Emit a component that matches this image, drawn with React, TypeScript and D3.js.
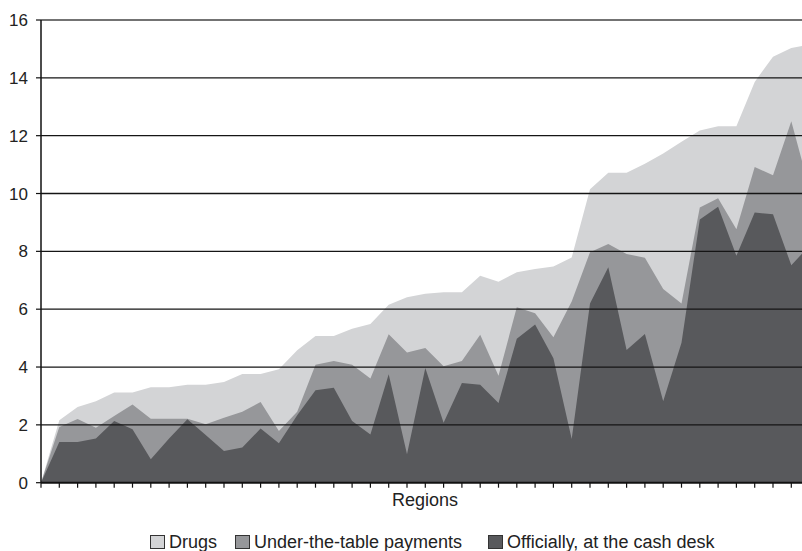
import React, { useEffect, useRef } from "react";
import * as d3 from "d3";

const drugs = [0, 2.16, 2.62, 2.82, 3.12, 3.12, 3.3, 3.3, 3.39, 3.39, 3.48, 3.76, 3.76, 3.92, 4.58, 5.07, 5.07, 5.32, 5.49, 6.15, 6.41, 6.53, 6.59, 6.59, 7.16, 6.95, 7.28, 7.39, 7.48, 7.79, 10.15, 10.72, 10.72, 11.03, 11.38, 11.79, 12.18, 12.33, 12.33, 13.86, 14.73, 15.03, 15.15];
const underTable = [0, 1.93, 2.2, 1.9, 2.31, 2.7, 2.21, 2.21, 2.21, 2.02, 2.25, 2.45, 2.79, 1.79, 2.45, 4.08, 4.21, 4.08, 3.6, 5.13, 4.5, 4.66, 4.03, 4.21, 5.12, 3.7, 6.07, 5.86, 5.03, 6.27, 7.97, 8.25, 7.91, 7.78, 6.7, 6.2, 9.52, 9.84, 8.76, 10.92, 10.63, 12.5, 10.15];
const officially = [0, 1.41, 1.41, 1.53, 2.13, 1.85, 0.81, 1.53, 2.19, 1.65, 1.1, 1.22, 1.87, 1.36, 2.33, 3.2, 3.28, 2.13, 1.67, 3.75, 0.98, 3.97, 2.07, 3.45, 3.39, 2.76, 4.98, 5.47, 4.3, 1.51, 6.2, 7.45, 4.59, 5.14, 2.82, 4.84, 9.1, 9.54, 7.85, 9.34, 9.28, 7.52, 8.2];
const yTicks = [0, 2, 4, 6, 8, 10, 12, 14, 16];
const seriesNames = ["Drugs", "Under-the-table payments", "Officially, at the cash desk"];
const seriesColors = ["#d3d4d6", "#96979a", "#58595c"];

export default function App() {
  const ref = useRef<SVGSVGElement>(null);
  useEffect(() => {
    const svg = d3.select(ref.current);
    svg.selectAll("*").remove();
    const W = 802, H = 551;
    const left = 41, right = 802, top = 20, bottom = 482.7;
    const n = drugs.length;
    const x = d3.scaleLinear().domain([0, n - 1]).range([left, left + 18.3 * (n - 1)]);
    const y = d3.scaleLinear().domain([0, 16]).range([bottom, top]);
    const font = "'Liberation Sans', Arial, Helvetica, sans-serif";

    const g = svg.append("g");
    const clip = svg.append("clipPath").attr("id", "plotclip");
    clip.append("rect").attr("x", left).attr("y", 0).attr("width", right - left).attr("height", H);

    const all = [drugs, underTable, officially];
    all.forEach((s, k) => {
      const area = d3.area<number>().x((_, i) => x(i)).y0(y(0)).y1(d => y(d));
      g.append("path").attr("d", area(s) as string).attr("fill", seriesColors[k]).attr("clip-path", "url(#plotclip)");
    });

    // gridlines
    yTicks.filter(t => t > 0).forEach(t => {
      g.append("line").attr("x1", left).attr("x2", right).attr("y1", y(t)).attr("y2", y(t))
        .attr("stroke", t === 16 ? "#444" : "#151515").attr("stroke-width", 1.3);
    });

    // y axis
    g.append("line").attr("x1", left).attr("x2", left).attr("y1", top).attr("y2", bottom).attr("stroke", "#111").attr("stroke-width", 1.5);
    yTicks.forEach(t => {
      g.append("line").attr("x1", left - 5).attr("x2", left).attr("y1", y(t)).attr("y2", y(t)).attr("stroke", "#111").attr("stroke-width", 1.2);
      g.append("text").attr("x", 28).attr("y", y(t)).attr("dy", "0.36em").attr("text-anchor", "end")
        .attr("font-family", font).attr("font-size", 17).attr("fill", "#222").text(String(t));
    });

    // x axis
    g.append("line").attr("x1", left).attr("x2", right).attr("y1", bottom).attr("y2", bottom).attr("stroke", "#111").attr("stroke-width", 2);
    d3.range(n).forEach(i => {
      const xi = x(i);
      if (xi > right) return;
      g.append("line").attr("x1", xi).attr("x2", xi).attr("y1", bottom).attr("y2", bottom + 5).attr("stroke", "#111").attr("stroke-width", 1.2);
    });
    g.append("text").attr("x", 425).attr("y", 506).attr("text-anchor", "middle")
      .attr("font-family", font).attr("font-size", 18).attr("fill", "#222").text("Regions");

    // legend
    const legendX = [150, 235, 488];
    seriesNames.forEach((name, k) => {
      g.append("rect").attr("x", legendX[k] + 0.5).attr("y", 535.5).attr("width", 14).attr("height", 13)
        .attr("fill", seriesColors[k]).attr("stroke", "#333").attr("stroke-width", 1);
      g.append("text").attr("x", legendX[k] + 19).attr("y", 548).attr("font-family", font).attr("font-size", 18)
        .attr("fill", "#222").text(name);
    });
    svg.attr("width", W).attr("height", H);
  }, []);
  return (
    <svg ref={ref} width={802} height={551} style={{ position: "absolute", left: 0, top: 0, background: "#fff" }} />
  );
}
